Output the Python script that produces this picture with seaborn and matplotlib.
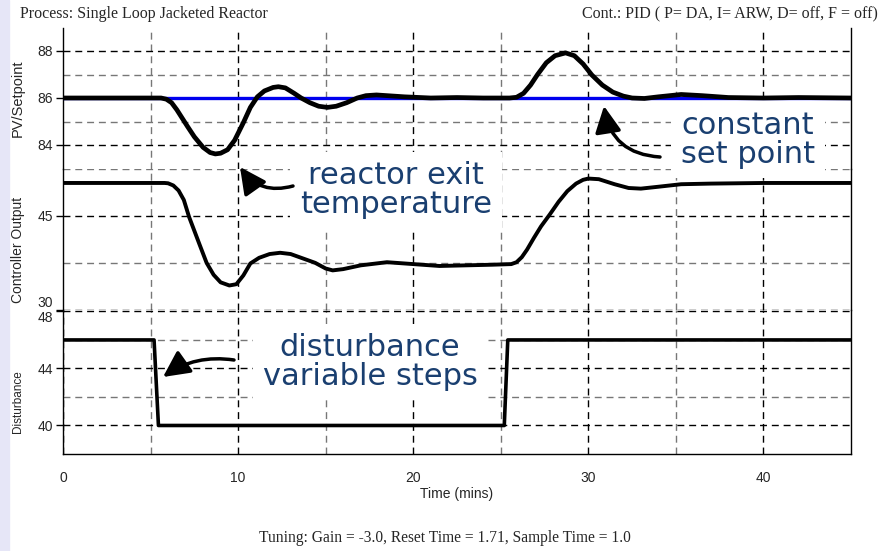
import numpy as np
import pandas as pd
import seaborn as sns
import matplotlib.pyplot as plt
from matplotlib.patches import FancyArrowPatch, Rectangle

pv_time = [0, 5, 5.6, 5.9, 6.2, 6.5, 6.8, 7.1, 7.5, 8.0, 8.4, 8.7, 9.0, 9.4, 9.8,
           10.3, 10.7, 11.1, 11.5, 12.0, 12.3, 12.7, 13.2, 13.6, 14.1, 14.6, 15.1,
           15.6, 16.2, 16.8, 17.3, 17.9, 18.5, 19.5, 21, 22.5, 24, 25.5, 25.9, 26.3,
           26.7, 27.1, 27.6, 28.1, 28.7, 29.2, 29.7, 30.2, 30.8, 31.4, 32.0, 32.5,
           33.2, 34.0, 35.3, 36.5, 38, 40, 42, 45]
pv_temp = [86.0, 86.0, 86.0, 85.95, 85.8, 85.5, 85.15, 84.8, 84.35, 83.9, 83.68,
           83.62, 83.65, 83.8, 84.2, 84.95, 85.6, 86.05, 86.3, 86.45, 86.48, 86.43,
           86.2, 86.0, 85.8, 85.65, 85.6, 85.65, 85.8, 86.0, 86.1, 86.13, 86.1,
           86.05, 86.0, 86.02, 86.0, 86.0, 86.03, 86.2, 86.55, 87.0, 87.5, 87.8,
           87.92, 87.8, 87.45, 86.98, 86.55, 86.25, 86.08, 86.0, 85.98, 86.05,
           86.15, 86.1, 86.02, 86.0, 86.02, 86.0]

sp_time = [0, 45]
sp_temp = [86.0, 86.0]

co_time = [0, 5.8, 6.0, 6.3, 6.6, 6.9, 7.2, 7.5, 7.8, 8.2, 8.6, 9.0, 9.5, 9.9, 10.3,
           10.7, 11.2, 11.8, 12.4, 13.0, 13.7, 14.4, 15.0, 15.4, 16.0, 17.0, 18.5,
           20.0, 21.5, 23.0, 24.5, 25.6, 25.9, 26.2, 26.5, 26.9, 27.3, 27.8, 28.3,
           28.8, 29.3, 29.7, 30.0, 30.6, 31.5, 32.3, 33.0, 34.0, 35.3, 37, 40, 45]
co_out = [50.2, 50.2, 50.15, 49.8, 49.0, 47.5, 44.8, 42.6, 40.4, 37.5, 35.6, 34.4,
          33.9, 34.1, 35.5, 37.4, 38.3, 38.9, 39.1, 38.9, 38.2, 37.5, 36.6, 36.3,
          36.5, 37.1, 37.6, 37.3, 37.0, 37.1, 37.2, 37.3, 37.6, 38.4, 39.6, 41.5,
          43.3, 45.2, 47.2, 48.9, 50.1, 50.7, 50.9, 50.8, 50.0, 49.4, 49.3, 49.6,
          50.0, 50.1, 50.2, 50.2]

dist_time = [0, 5.2, 5.45, 25.2, 25.4, 45]
dist_val = [46, 46, 40, 40, 46, 46]

sns.set_style("white")
plt.rcParams["font.family"] = ["Liberation Sans", "DejaVu Sans"]

W, H = 882, 551
fig = plt.figure(figsize=(W / 100, H / 100), dpi=100)
fig.patches.append(Rectangle((0, 0), 9 / W, 1, transform=fig.transFigure,
                             color="#e6e6f7", zorder=0))


def panel(top, bot):
    return fig.add_axes([63 / W, (H - bot) / H, (851 - 63) / W, (bot - top) / H])


ax1 = panel(27.5, 168.5)
ax2 = panel(168.5, 310)
ax3 = panel(310, 454)

specs = [
    (ax1, (83, 89), [84, 86, 88], [85, 87]),
    (ax2, (30, 52.5), [30, 45], [37.5, 52.5]),
    (ax3, (38, 48.1), [40, 44, 48], [42, 46]),
]
for ax, lim, major, minor in specs:
    ax.set_facecolor("none")
    ax.set_xlim(0, 45)
    ax.set_ylim(*lim)
    ax.set_yticks(major, labels=[str(m) for m in major])
    ax.set_yticks(minor, minor=True)
    ax.set_xticks([10, 20, 30, 40])
    ax.set_xticks([5, 15, 25, 35], minor=True)
    ax.grid(which="major", color="black", linestyle=(0, (5, 3.5)), linewidth=1)
    ax.grid(which="minor", color="#777777", linestyle=(0, (5, 3.5)), linewidth=1)
    ax.tick_params(axis="y", which="major", length=5, width=1, color="black",
                   labelsize=10, pad=2, left=True)
    ax.tick_params(axis="y", which="minor", length=0)
    ax.tick_params(axis="x", which="both", length=0)
    for s in ["top", "bottom"]:
        ax.spines[s].set_visible(False)
    for s in ["left", "right"]:
        ax.spines[s].set_color("black")
        ax.spines[s].set_linewidth(1)

ax1.tick_params(axis="x", labelbottom=False)
ax2.tick_params(axis="x", labelbottom=False)
ax3.spines["bottom"].set_visible(True)
ax3.spines["bottom"].set_color("black")
ax3.spines["bottom"].set_linewidth(1)
ax3.set_xticks([0, 10, 20, 30, 40])
ax3.tick_params(axis="x", which="major", pad=12, labelsize=10)
ax3.grid(which="major", axis="x", color="black", linestyle=(0, (5, 3.5)), linewidth=1)

# the 30 and 48 labels share a tick position: push them apart
ax2.get_yticklabels()[0].set_verticalalignment("bottom")
ax3.get_yticklabels()[-1].set_verticalalignment("top")

sns.lineplot(x=sp_time, y=sp_temp, ax=ax1, color="#0000ee", linewidth=2.4, zorder=3)
sns.lineplot(x=pv_time, y=pv_temp, ax=ax1, color="black", linewidth=3.4, zorder=4)
sns.lineplot(x=co_time, y=co_out, ax=ax2, color="black", linewidth=2.8, zorder=4)
sns.lineplot(x=dist_time, y=dist_val, ax=ax3, color="black", linewidth=2.6, zorder=4)
for ax in (ax1, ax2, ax3):
    ax.set_xlabel("")
    ax.set_ylabel("")
ax3.set_xlabel("Time (mins)", fontsize=10, labelpad=2)

fig.text(18 / W, 1 - 98 / H, "PV/Setpoint", rotation=90, ha="center", va="center",
         fontsize=10.5)
fig.text(18 / W, 1 - 250 / H, "Controller Output", rotation=90, ha="center",
         va="center", fontsize=10)
fig.text(18 / W, 1 - 402 / H, "Disturbance", rotation=90, ha="center", va="center",
         fontsize=8.5)

serif = ["Liberation Serif", "DejaVu Serif"]
fig.text(20 / W, 1 - 14 / H, "Process: Single Loop Jacketed Reactor", family=serif,
         fontsize=11.5, ha="left", va="center")
fig.text(878 / W, 1 - 14 / H, "Cont.: PID ( P= DA, I= ARW, D= off, F = off)",
         family=serif, fontsize=11.5, ha="right", va="center")
fig.text(445 / W, 1 - 538 / H,
         "Tuning: Gain = -3.0, Reset Time = 1.71, Sample Time = 1.0",
         family=serif, fontsize=11.2, ha="center", va="center")

navy = "#1a3f70"
box = dict(facecolor="white", edgecolor="none", pad=7)
note_font = ["DejaVu Sans"]
fig.text(396 / W, 1 - 190 / H, "reactor exit\ntemperature", ha="center", va="center",
         fontsize=22, color=navy, linespacing=0.97, bbox=box, family=note_font, zorder=4)
fig.text(748 / W, 1 - 140 / H, "constant\nset point", ha="center", va="center",
         fontsize=22, color=navy, linespacing=0.97, bbox=box, family=note_font, zorder=4)
fig.text(370 / W, 1 - 362 / H, "disturbance\nvariable steps", ha="center",
         va="center", fontsize=22, color=navy, linespacing=0.97, bbox=box,
         family=note_font, zorder=4)


def arrow(tail, head, rad):
    a = FancyArrowPatch((tail[0] / W, 1 - tail[1] / H), (head[0] / W, 1 - head[1] / H),
                        transform=fig.transFigure,
                        arrowstyle="-|>,head_length=0.8,head_width=0.4",
                        connectionstyle=f"arc3,rad={rad}", mutation_scale=20,
                        linewidth=2.5, color="black", shrinkA=0, shrinkB=0, zorder=6)
    fig.add_artist(a)


arrow((293, 186), (240, 167), -0.35)
arrow((660, 157), (604, 106), -0.4)
arrow((234, 360), (163, 377), 0.2)

plt.savefig("out.png", dpi=100)
